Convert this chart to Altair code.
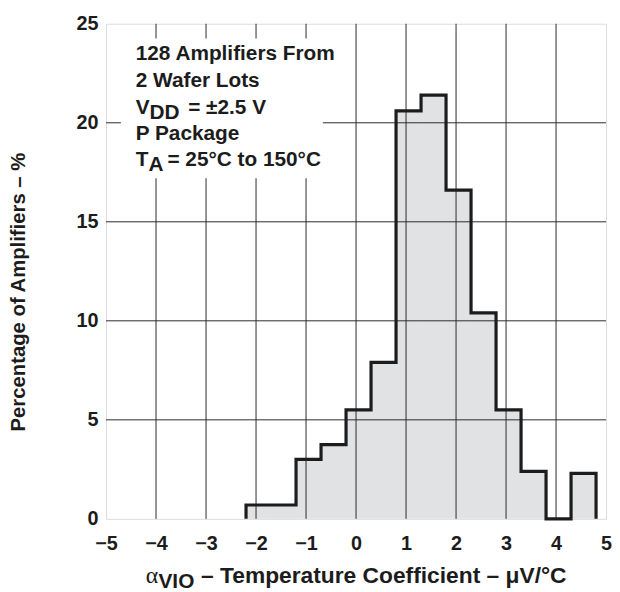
import altair as alt
import pandas as pd

# ---------------- data ----------------
bin_left = [-2.2, -1.7, -1.2, -0.7, -0.2, 0.3, 0.8, 1.3, 1.8, 2.3, 2.8, 3.3, 3.8, 4.3]
bin_right = [-1.7, -1.2, -0.7, -0.2, 0.3, 0.8, 1.3, 1.8, 2.3, 2.8, 3.3, 3.8, 4.3, 4.8]
pct = [0.7, 0.7, 3.0, 3.75, 5.5, 7.9, 20.6, 21.4, 16.6, 10.4, 5.5, 2.4, 0.0, 2.3]

x_ticks = [-5, -4, -3, -2, -1, 0, 1, 2, 3, 4, 5]
y_ticks = [0, 5, 10, 15, 20, 25]
grid_x = [-4, -3, -2, -1, 0, 1, 2, 3, 4]
grid_y = [5, 10, 15, 20]

y_title = "Percentage of Amplifiers \u2013 %"
x_title_parts = ["\u03b1", "VIO", "\u2013 Temperature Coefficient \u2013 \u03bcV/\u00b0C"]

box_plain = ["128 Amplifiers From", "2 Wafer Lots", "P Package"]
box_v = ["V", "DD", "= \u00b12.5 V"]
box_t = ["T", "A", "= 25\u00b0C to 150\u00b0C"]

# ---------------- styling ----------------
FONT = "Liberation Sans"
SERIF = "Liberation Serif"
INK = "#1c1c1c"
FS = 20
BFS = 21
W, H = 505, 500

xs = alt.Scale(domain=[-5, 5], nice=False, zero=False)
ys = alt.Scale(domain=[0, 25], nice=False, zero=False)

bars = pd.DataFrame({"left": bin_left, "right": bin_right, "pct": pct})

# outline vertices of the histogram (step outline)
ox, oy = [bin_left[0]], [0.0]
for l, r, v in zip(bin_left, bin_right, pct):
    ox += [l, r]
    oy += [v, v]
ox.append(bin_right[-1])
oy.append(0.0)
outline = pd.DataFrame({"x": ox, "y": oy, "order": list(range(len(ox)))})

fill = alt.Chart(bars).mark_rect(color="#e1e2e4").encode(
    x=alt.X("left:Q", scale=xs,
            axis=alt.Axis(values=x_ticks, title=None, grid=False, ticks=False,
                          domain=False, labelFlush=False, labelPadding=15,
                          labelFont=FONT, labelFontSize=FS, labelFontWeight="bold",
                          labelColor=INK, format="d")),
    x2="right:Q",
    y=alt.Y("pct:Q", scale=ys,
            axis=alt.Axis(values=y_ticks, title=None, grid=False, ticks=False,
                          domain=False, labelFlush=False, labelPadding=8,
                          labelFont=FONT, labelFontSize=FS, labelFontWeight="bold",
                          labelColor=INK, format="d")),
    y2=alt.datum(0),
)

vgrid = alt.Chart(pd.DataFrame({"g": grid_x})).mark_rule(color="#2a2a2a", strokeWidth=1).encode(
    x=alt.X("g:Q", scale=xs)
)
hgrid = alt.Chart(pd.DataFrame({"g": grid_y})).mark_rule(color="#2a2a2a", strokeWidth=1).encode(
    y=alt.Y("g:Q", scale=ys)
)

box = alt.Chart(pd.DataFrame({"k": [0]})).mark_rect(color="white").encode(
    x=alt.value(15), x2=alt.value(219), y=alt.value(15), y2=alt.value(156)
)

line = alt.Chart(outline).mark_line(color=INK, strokeWidth=3.2, strokeJoin="miter").encode(
    x=alt.X("x:Q", scale=xs), y=alt.Y("y:Q", scale=ys), order="order:Q"
)


def txt(s, x, y, size=FS, font=FONT, weight="bold", align="left", baseline="alphabetic", angle=0):
    return alt.Chart(pd.DataFrame({"t": [s]})).mark_text(
        font=font, fontSize=size, fontWeight=weight, color=INK,
        align=align, baseline=baseline, angle=angle
    ).encode(text="t:N", x=alt.value(x), y=alt.value(y))


XB = 565  # baseline of the x title (plot coords)
texts = [
    txt(box_plain[0], 30, 37, size=BFS),
    txt(box_plain[1], 30, 64, size=BFS),
    txt(box_v[0], 30, 91, size=BFS),
    txt(box_v[1], 44, 96, size=BFS),
    txt(box_v[2], 83, 91, size=BFS),
    txt(box_plain[2], 30, 117, size=BFS),
    txt(box_t[0], 30, 144, size=BFS),
    txt(box_t[1], 43, 149, size=BFS),
    txt(box_t[2], 62, 144, size=BFS),
    # y title
    txt(y_title, -88, 271, size=20.5, align="center", baseline="middle", angle=270),
    # x title: alpha, subscript, rest
    txt(x_title_parts[0], 40, XB, font=SERIF, weight="normal", size=24),
    txt(x_title_parts[1], 53, XB + 5, size=BFS),
    txt(x_title_parts[2], 96, XB, size=23),
]

chart = alt.layer(fill, vgrid, hgrid, box, line, *texts).properties(
    width=W, height=H,
    padding={"left": 99, "top": 13, "right": 6, "bottom": 76},
    autosize=alt.AutoSizeParams(type="none"),
).configure_view(stroke=INK, strokeWidth=2.5).configure(background="white")

chart.save("out.html", embed_options={"renderer": "svg", "actions": False})
